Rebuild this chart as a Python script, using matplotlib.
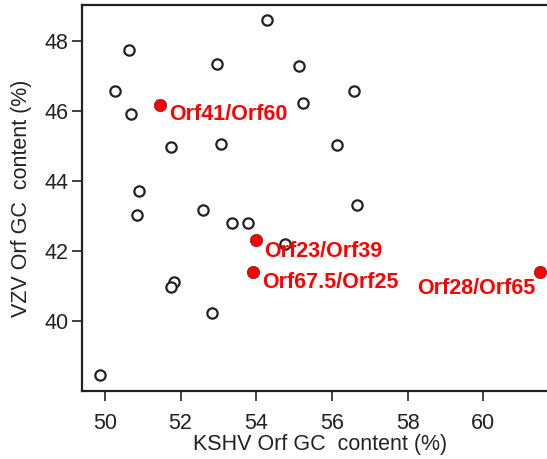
import matplotlib
matplotlib.use("Agg")
import matplotlib.pyplot as plt

# KSHV vs VZV ORF GC content (%)
kshv_gc = [54.28, 50.63, 52.96, 55.12, 50.28, 56.57, 55.24, 50.70,
           51.75, 53.07, 56.12, 50.89, 50.85, 52.59, 56.65, 53.36,
           53.78, 54.75, 51.83, 51.76, 52.83, 49.87]
vzv_gc = [48.60, 47.73, 47.33, 47.28, 46.57, 46.56, 46.22, 45.91,
          44.98, 45.05, 45.03, 43.72, 43.02, 43.17, 43.32, 42.81,
          42.81, 42.19, 41.12, 40.96, 40.24, 38.46]

# highlighted ORF pairs
pair_names = ["Orf41/Orf60", "Orf23/Orf39", "Orf67.5/Orf25", "Orf28/Orf65"]
pair_kshv = [51.45, 53.98, 53.91, 61.50]
pair_vzv = [46.17, 42.32, 41.41, 41.41]

x_ticks = [50, 52, 54, 56, 58, 60]
y_ticks = [40, 42, 44, 46, 48]

# label placement in pixels relative to the dot (dx, dy, ha)
label_offsets = [(9, -10, "left"), (9, -12, "left"), (9, -11, "left"), (-5, -17, "right")]

ink = "#222222"
plt.rcParams["font.family"] = ["Liberation Sans", "DejaVu Sans"]

fig = plt.figure(figsize=(5.47, 4.59), dpi=100)
ax = fig.add_axes([0.1508, 0.1481, 0.8693, 0.841])

ax.scatter(kshv_gc, vzv_gc, s=55, facecolors="white", edgecolors=ink,
           linewidths=1.6, zorder=3)
ax.scatter(pair_kshv, pair_vzv, s=80, facecolors="#ff0000", edgecolors="#553333",
           linewidths=0.5, zorder=4)

for name, x, y, (dx, dy, ha) in zip(pair_names, pair_kshv, pair_vzv, label_offsets):
    ax.annotate(name, (x, y), xytext=(dx * 0.72, dy * 0.72), textcoords="offset points",
                ha=ha, va="center", color="#ff0000", fontsize=15.5,
                fontweight="bold", zorder=5)

ax.set_xlim(49.41, 61.97)
ax.set_ylim(38.0, 49.02)
ax.set_xticks(x_ticks)
ax.set_yticks(y_ticks)
ax.tick_params(colors=ink, labelsize=15.5, length=7, width=1.2, pad=3)
ax.tick_params(axis="x", pad=9)
for side in ["left", "bottom", "top"]:
    ax.spines[side].set_linewidth(1.6)
    ax.spines[side].set_color(ink)
ax.spines["right"].set_visible(False)

ax.set_xlabel("KSHV Orf GC  content (%)", fontsize=15.5, color=ink, labelpad=0)
ax.set_ylabel("VZV Orf GC  content (%)", fontsize=15.5, color=ink, labelpad=9)

fig.savefig("out.png", dpi=100)
